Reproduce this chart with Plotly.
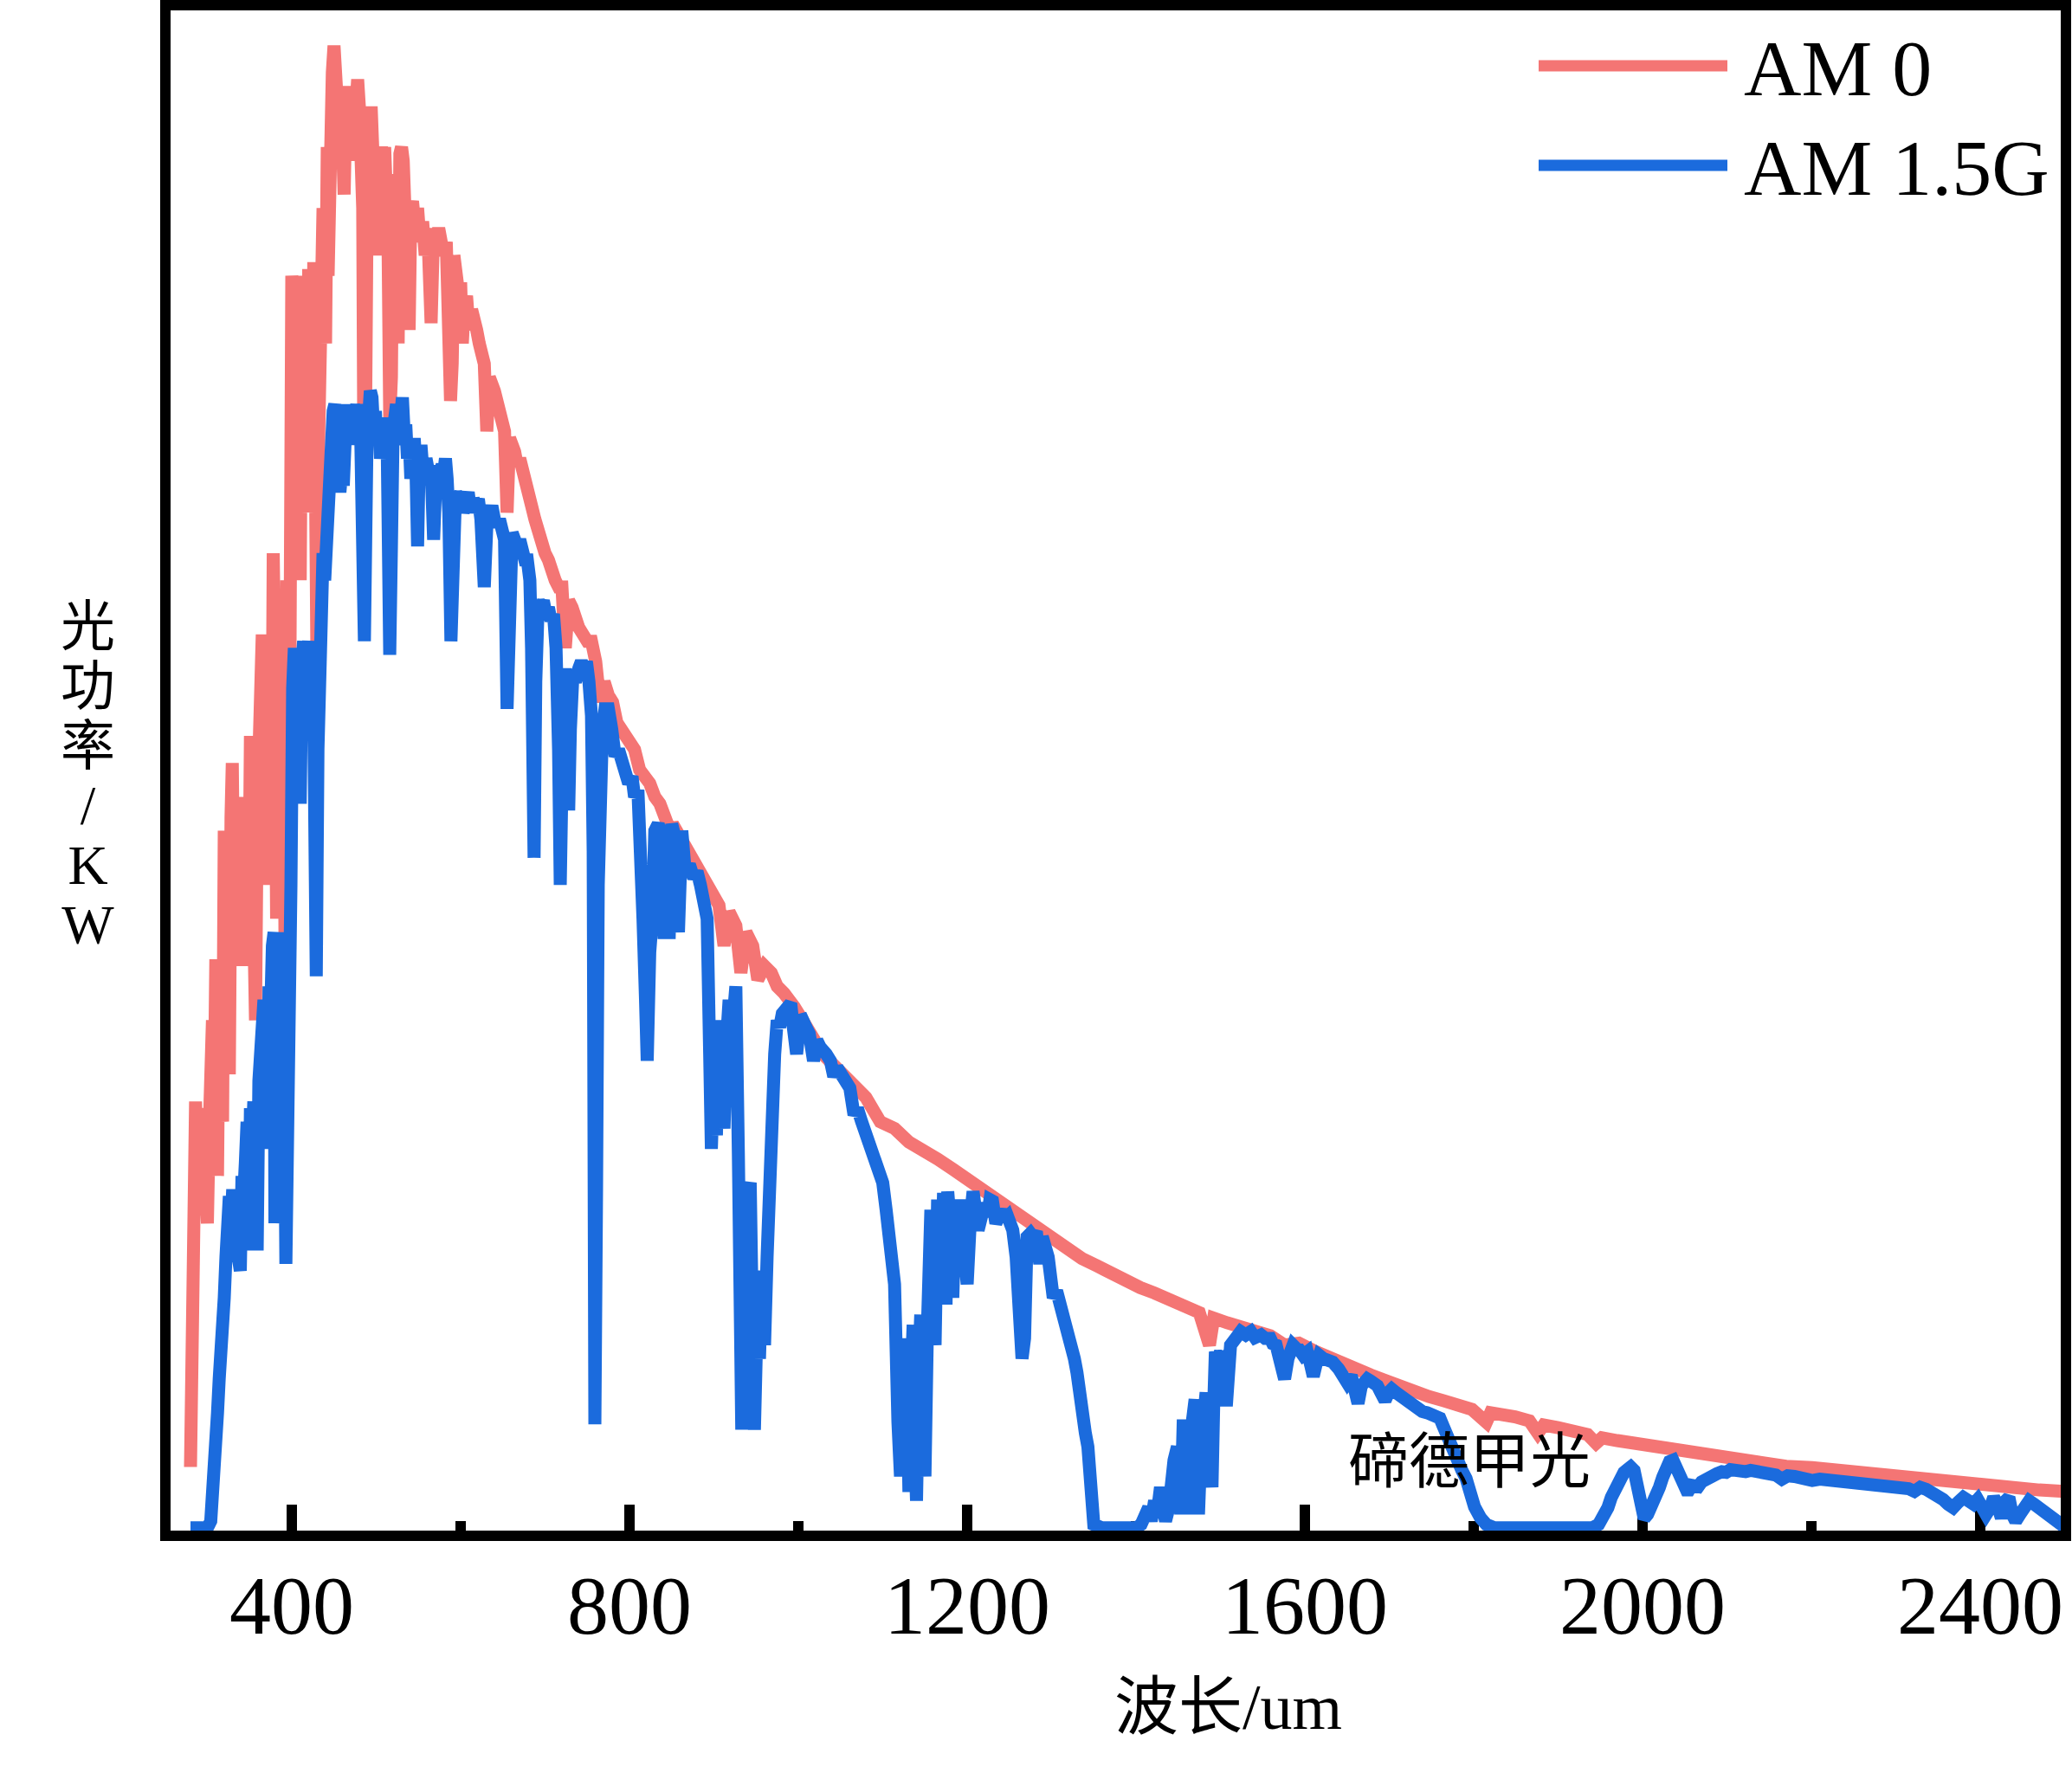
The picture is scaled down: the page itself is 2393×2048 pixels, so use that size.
import plotly.graph_objects as go

# ---------------- data ----------------
wl_am0 = [280, 282, 284, 286, 288, 290, 292, 294, 296, 298, 300, 302, 304, 306, 308, 310, 312, 314, 316, 318,
          320, 322, 324, 326, 328, 329.5, 331, 333, 336, 339, 341, 343, 345, 347, 349, 351, 353, 355, 357, 359,
          361, 363, 365, 367, 369, 371, 373, 376, 378, 380, 382, 384, 386, 388, 390, 392, 394, 396, 398,
          400, 401, 402, 403, 404, 405, 406, 407, 408, 410, 412, 413, 414, 416, 418, 419, 420, 421, 422, 423,
          424, 425, 426, 428, 430, 432, 434, 436, 437, 438, 439, 440, 442, 443, 444, 446, 447, 448, 450,
          452, 454, 456, 458, 460, 462, 464, 466, 468, 470, 472, 474, 476, 478, 480, 482, 484, 486, 488, 490,
          492, 494, 496, 498, 500, 502, 504, 506, 508, 510, 512, 514, 516, 518, 520, 522, 524, 526, 528, 530,
          532, 534, 536, 539, 541, 543, 546, 549, 552, 555, 558, 561, 565, 568, 571, 574, 577, 580, 583, 586,
          588, 590, 592, 595, 598, 600, 602, 604, 607, 610, 613, 616, 619, 622, 625, 628, 631, 634, 637, 640,
          643, 646, 649, 652, 655, 658, 661, 664, 667, 670, 673, 676, 680, 684, 688, 692, 696, 700, 704, 708,
          712, 716, 720, 724, 728, 732, 736, 740, 745, 750, 755, 760, 765, 770, 775, 780, 785, 790, 795, 800,
          806, 812, 818, 824, 830, 836, 842, 848, 851, 860, 868, 875, 882, 890, 899, 906, 912, 918, 926, 932,
          938, 946, 952, 960, 968, 975, 983, 990, 995, 1005, 1015, 1029, 1045, 1063, 1080, 1097, 1114, 1131,
          1148, 1165, 1183, 1200, 1217, 1234, 1251, 1268, 1285, 1302, 1319, 1336, 1354, 1371, 1388, 1405,
          1422, 1439, 1456, 1475, 1487, 1492, 1508, 1524, 1541, 1559, 1576, 1593, 1610, 1627, 1644, 1660,
          1678, 1695, 1712, 1730, 1747, 1764, 1781, 1798, 1815, 1820, 1849, 1866, 1876, 1883, 1900, 1918,
          1935, 1945, 1952, 1970, 1986, 2003, 2020, 2037, 2054, 2080, 2110, 2140, 2170, 2201, 2230, 2260,
          2290, 2320, 2350, 2380, 2410, 2440, 2470, 2500]

am0 = [0.09, 0.25, 0.42, 0.63, 0.52, 0.60, 0.56, 0.62, 0.58, 0.55, 0.45, 0.58, 0.64, 0.75, 0.62, 0.84, 0.52, 0.80, 0.70, 0.60,
       1.03, 0.80, 0.95, 0.67, 1.05, 1.13, 0.95, 1.04, 0.92, 1.08, 0.83, 1.07, 0.90, 1.02, 0.88, 1.17, 0.95, 1.10, 0.75, 1.05,
       1.20, 1.10, 1.32, 1.15, 1.27, 0.95, 1.20, 1.00, 1.44, 1.25, 0.90, 1.20, 1.38, 1.15, 1.30, 0.85, 1.40, 0.80, 1.60,
       1.85, 1.50, 1.80, 1.45, 1.84, 1.55, 1.85, 1.60, 1.84, 1.40, 1.83, 1.55, 1.85, 1.62, 1.80, 1.50, 1.86, 1.60, 1.82, 1.55,
       1.86, 1.65, 1.87, 1.70, 1.25, 1.62, 1.93, 1.70, 1.95, 1.80, 2.00, 1.75, 2.04, 1.85, 2.00, 2.10, 1.90, 2.15, 2.19,
       2.08, 2.13, 2.06, 2.13, 2.00, 1.97, 2.10, 2.13, 2.05, 2.10, 2.02, 2.12, 2.08, 2.14, 2.10, 2.06, 1.95, 1.40, 2.00, 2.09,
       2.06, 2.10, 2.00, 2.07, 1.90, 2.03, 1.88, 2.04, 2.02, 2.04, 1.98, 1.90, 1.64, 1.70, 2.00, 1.95, 2.00, 1.75, 2.03, 2.04,
       2.02, 1.95, 1.90, 1.77, 1.95, 1.96, 1.92, 1.95, 1.90, 1.93, 1.88, 1.92, 1.78, 1.92, 1.90, 1.92, 1.88, 1.88, 1.90, 1.78,
       1.665, 1.72, 1.88, 1.85, 1.82, 1.84, 1.75, 1.80, 1.82, 1.77, 1.80, 1.77, 1.77, 1.75, 1.73, 1.72, 1.62, 1.70, 1.69, 1.68,
       1.66, 1.65, 1.64, 1.62, 1.50, 1.61, 1.60, 1.59, 1.57, 1.58, 1.56, 1.55, 1.52, 1.51, 1.49, 1.47, 1.46, 1.44, 1.43, 1.41,
       1.40, 1.39, 1.39, 1.30, 1.37, 1.36, 1.34, 1.33, 1.32, 1.31, 1.31, 1.28, 1.22, 1.25, 1.23, 1.22, 1.19, 1.18, 1.17, 1.16,
       1.15, 1.12, 1.11, 1.10, 1.08, 1.07, 1.05, 1.03, 1.04, 1.02, 1.00, 0.99, 0.97, 0.96, 0.94, 0.92, 0.86, 0.91, 0.89, 0.82,
       0.88, 0.86, 0.81, 0.83, 0.82, 0.80, 0.79, 0.78, 0.77, 0.75, 0.73, 0.70, 0.68, 0.66, 0.636, 0.60, 0.59, 0.57,
       0.56, 0.545, 0.53, 0.515, 0.50, 0.485, 0.47, 0.455, 0.443, 0.425, 0.41, 0.398, 0.387, 0.375, 0.364, 0.355,
       0.347, 0.337, 0.327, 0.318, 0.27, 0.31, 0.303, 0.296, 0.29, 0.284, 0.27, 0.273, 0.262, 0.252, 0.243, 0.236,
       0.226, 0.218, 0.209, 0.201, 0.194, 0.188, 0.183, 0.175, 0.156, 0.17, 0.164, 0.158, 0.14, 0.152, 0.148, 0.143,
       0.138, 0.125, 0.133, 0.129, 0.126, 0.122, 0.118, 0.114, 0.111, 0.104, 0.098, 0.094, 0.091, 0.089, 0.085, 0.081,
       0.077, 0.073, 0.069, 0.065, 0.061, 0.058, 0.056, 0.054]

wl_am15g = [280, 290, 300, 304, 306, 308, 310, 312, 314, 316, 318, 320, 322, 324, 326, 328, 330, 332, 334, 336,
            339, 341, 343, 345, 347, 349, 351, 353, 355, 357, 359, 361, 363, 365, 367, 369, 371, 373, 375, 377,
            379, 380, 382, 384, 386, 388, 390, 393, 395, 397, 399, 401, 403, 405, 407, 410, 412, 414, 416, 418,
            420, 422, 424, 426, 429, 431, 433, 435, 437, 439, 441, 443, 445, 447, 449, 451, 453, 455, 457, 459,
            461, 463, 465, 467, 469, 471, 473, 475, 477, 479, 481, 483, 486, 489, 491, 493, 495, 497, 499, 501,
            503, 505, 507, 509, 511, 513, 516, 518, 520, 522, 524, 526, 528, 531, 533, 535, 537, 539, 541, 543,
            545, 547, 549, 551, 553, 556, 559, 562, 565, 568, 571, 573, 575, 578, 580, 582, 584, 586, 588.5, 591,
            594, 597, 600, 603, 606, 609, 612, 615, 618, 621, 624, 628, 631, 634, 637, 640, 643, 646, 649, 652,
            655, 658, 661, 664, 667, 670, 673, 676, 679, 682, 684, 687, 689, 692, 695, 698, 701, 704, 707, 710,
            713, 716, 718, 720, 722, 724, 726, 728, 730, 733, 736, 740, 743, 746, 749, 752, 755, 757, 759, 761,
            763, 765, 768, 771, 775, 779, 783, 787, 791, 795, 799, 803, 806, 810, 813, 816, 819, 821, 824, 827,
            830, 834, 838, 841, 844, 847, 850, 854, 858, 862, 866, 871, 876, 880, 884, 888, 892, 895, 897, 900,
            903, 906, 909, 912, 915, 918, 922, 926, 929, 931, 933, 936, 939, 941, 943, 945, 948, 951, 954, 957,
            960, 963, 966, 969, 972, 975, 978, 981, 985, 988, 991, 994, 998, 1002, 1005, 1009, 1013, 1018, 1022, 1026,
            1029, 1033, 1038, 1042, 1046, 1051, 1056, 1061, 1066, 1070, 1075, 1080, 1085, 1090, 1094, 1100, 1104, 1107, 1111, 1114,
            1118, 1121, 1124, 1126, 1128, 1131, 1133, 1136, 1138, 1140, 1143, 1145, 1148, 1150, 1153, 1157, 1160, 1162, 1165, 1169,
            1172, 1175, 1177, 1180, 1183, 1186, 1190, 1193, 1197, 1200, 1204, 1207, 1210, 1213, 1217, 1220, 1224, 1227, 1230, 1234,
            1237, 1241, 1244, 1248, 1251, 1254, 1258, 1262, 1265, 1268, 1271, 1275, 1278, 1282, 1286, 1289, 1292, 1296, 1299, 1302,
            1306, 1311, 1315, 1319, 1324, 1327, 1330, 1333, 1336, 1340, 1343, 1346, 1350, 1360, 1370, 1380, 1390, 1400, 1406, 1411,
            1415, 1418, 1422, 1425, 1429, 1432, 1435, 1439, 1442, 1445, 1449, 1451, 1453, 1456, 1458, 1460, 1463, 1466, 1470, 1472,
            1474, 1477, 1479, 1483, 1486, 1490, 1492, 1494, 1497, 1500, 1504, 1507, 1510, 1512, 1518, 1524, 1530, 1536, 1541, 1548,
            1553, 1559, 1562, 1566, 1570, 1573, 1576, 1580, 1586, 1590, 1593, 1598, 1603, 1607, 1610, 1613, 1617, 1622, 1627, 1633,
            1640, 1645, 1650, 1655, 1660, 1663, 1667, 1670, 1674, 1678, 1682, 1686, 1690, 1695, 1699, 1703, 1708, 1712, 1717, 1722,
            1727, 1733, 1739, 1745, 1752, 1760, 1764, 1767, 1771, 1774, 1778, 1782, 1786, 1791, 1796, 1801, 1808, 1815, 1825, 1850,
            1880, 1910, 1940, 1948, 1952, 1955, 1959, 1963, 1966, 1970, 1974, 1978, 1982, 1986, 1990, 1993, 1996, 1999, 2002, 2006,
            2010, 2015, 2020, 2024, 2028, 2032, 2036, 2040, 2044, 2048, 2052, 2055, 2058, 2062, 2066, 2070, 2074, 2078, 2083, 2088,
            2094, 2099, 2104, 2110, 2116, 2122, 2128, 2136, 2143, 2150, 2158, 2165, 2172, 2180, 2190, 2201, 2210, 2220, 2230, 2237,
            2246, 2255, 2263, 2272, 2281, 2290, 2299, 2308, 2315, 2322, 2329, 2336, 2343, 2350, 2356, 2362, 2368, 2374, 2380, 2386,
            2392, 2397, 2402, 2407, 2412, 2416, 2420, 2425, 2430, 2434, 2438, 2442, 2447, 2452, 2458, 2464, 2469, 2474, 2480, 2485,
            2490, 2495, 2500]

am15g = [0.0, 0.0, 0.0, 0.01, 0.04, 0.09, 0.14, 0.17, 0.22, 0.25, 0.30, 0.34, 0.40, 0.47, 0.49, 0.45, 0.50, 0.46, 0.42, 0.40,
         0.38, 0.52, 0.49, 0.54, 0.60, 0.41, 0.62, 0.57, 0.63, 0.52, 0.41, 0.66, 0.74, 0.70, 0.78, 0.74, 0.56, 0.80, 0.76, 0.86,
         0.88, 0.45, 0.78, 0.86, 0.88, 0.80, 0.87, 0.39, 0.80, 0.50, 0.95, 1.24, 1.30, 1.25, 1.29, 1.07, 1.28, 1.31, 1.27, 1.30,
         1.31, 1.25, 1.28, 1.20, 0.815, 1.15, 1.38, 1.42, 1.44, 1.40, 1.48, 1.56, 1.62, 1.58, 1.65, 1.66, 1.60, 1.62, 1.53, 1.56,
         1.54, 1.60, 1.66, 1.62, 1.65, 1.60, 1.66, 1.64, 1.66, 1.63, 1.66, 1.58, 1.31, 1.60, 1.64, 1.68, 1.67, 1.62, 1.65, 1.60,
         1.64, 1.58, 1.63, 1.62, 1.64, 1.60, 1.29, 1.45, 1.62, 1.64, 1.66, 1.60, 1.66, 1.67, 1.62, 1.63, 1.58, 1.61, 1.55, 1.60,
         1.61, 1.57, 1.45, 1.58, 1.60, 1.55, 1.58, 1.56, 1.57, 1.46, 1.56, 1.52, 1.56, 1.57, 1.56, 1.58, 1.55, 1.50, 1.31, 1.45,
         1.53, 1.52, 1.53, 1.50, 1.52, 1.53, 1.50, 1.52, 1.51, 1.52, 1.49, 1.39, 1.48, 1.50, 1.51, 1.49, 1.48, 1.49, 1.47, 1.46,
         1.21, 1.44, 1.47, 1.46, 1.45, 1.46, 1.44, 1.43, 1.43, 1.40, 1.30, 0.99, 1.25, 1.37, 1.36, 1.37, 1.35, 1.36, 1.34, 1.35,
         1.30, 1.15, 0.95, 1.10, 1.22, 1.27, 1.20, 1.06, 1.18, 1.26, 1.25, 1.27, 1.28, 1.27, 1.28, 1.25, 1.20, 1.00, 0.153, 0.50,
         0.95, 1.12, 1.18, 1.21, 1.21, 1.18, 1.14, 1.15, 1.13, 1.12, 1.10, 1.11, 1.08, 1.09, 1.02, 0.90, 0.78, 0.69, 0.85, 0.90,
         1.03, 1.04, 1.02, 0.87, 1.03, 0.87, 1.04, 1.02, 0.88, 1.03, 0.97, 0.98, 0.96, 0.97, 0.95, 0.93, 0.90, 0.70, 0.56, 0.68,
         0.58, 0.75, 0.62, 0.59, 0.72, 0.78, 0.74, 0.80, 0.55, 0.30, 0.145, 0.40, 0.30, 0.50, 0.51, 0.35, 0.145, 0.30, 0.25, 0.38,
         0.27, 0.40, 0.55, 0.62, 0.70, 0.75, 0.74, 0.76, 0.77, 0.775, 0.775, 0.74, 0.70, 0.75, 0.751, 0.74, 0.73, 0.69, 0.72, 0.71,
         0.707, 0.70, 0.69, 0.667, 0.68, 0.67, 0.667, 0.65, 0.61, 0.62, 0.60, 0.58, 0.57, 0.55, 0.54, 0.51, 0.47, 0.44, 0.40, 0.36,
         0.156, 0.076, 0.20, 0.09, 0.28, 0.053, 0.20, 0.30, 0.12, 0.04, 0.25, 0.315, 0.12, 0.076, 0.30, 0.47, 0.35, 0.27, 0.485, 0.35,
         0.495, 0.33, 0.497, 0.45, 0.34, 0.47, 0.44, 0.485, 0.40, 0.36, 0.46, 0.497, 0.47, 0.44, 0.46, 0.48, 0.46, 0.485, 0.483, 0.45,
         0.46, 0.47, 0.455, 0.46, 0.45, 0.44, 0.40, 0.33, 0.25, 0.28, 0.43, 0.435, 0.43, 0.438, 0.39, 0.43, 0.42, 0.40, 0.37, 0.34,
         0.35, 0.33, 0.31, 0.29, 0.27, 0.25, 0.23, 0.19, 0.15, 0.14, 0.12, 0.06, 0.005, 0.0, 0.0, 0.0, 0.0, 0.0, 0.005, 0.02,
         0.03, 0.01, 0.04, 0.02, 0.06, 0.03, 0.01, 0.03, 0.08, 0.10, 0.12, 0.06, 0.02, 0.16, 0.08, 0.02, 0.12, 0.15, 0.19, 0.08,
         0.02, 0.12, 0.18, 0.20, 0.12, 0.06, 0.18, 0.26, 0.25, 0.26, 0.24, 0.18, 0.25, 0.27, 0.28, 0.29, 0.285, 0.29, 0.281, 0.285,
         0.28, 0.28, 0.272, 0.27, 0.25, 0.23, 0.22, 0.25, 0.27, 0.265, 0.264, 0.255, 0.26, 0.24, 0.224, 0.24, 0.255, 0.25, 0.247, 0.245,
         0.235, 0.225, 0.215, 0.225, 0.20, 0.184, 0.21, 0.22, 0.22, 0.217, 0.215, 0.21, 0.20, 0.188, 0.20, 0.205, 0.20, 0.196, 0.19, 0.185,
         0.18, 0.175, 0.172, 0.17, 0.166, 0.162, 0.15, 0.14, 0.125, 0.115, 0.105, 0.095, 0.085, 0.073, 0.05, 0.031, 0.015, 0.005, 0.0, 0.0,
         0.0, 0.0, 0.0, 0.005, 0.012, 0.02, 0.03, 0.045, 0.055, 0.068, 0.076, 0.082, 0.086, 0.09, 0.085, 0.07, 0.045, 0.025, 0.014, 0.02,
         0.03, 0.039, 0.06, 0.075, 0.088, 0.098, 0.10, 0.09, 0.075, 0.062, 0.056, 0.056, 0.063, 0.062, 0.061, 0.068, 0.072, 0.075, 0.077, 0.08,
         0.083, 0.082, 0.086, 0.084, 0.086, 0.083, 0.085, 0.084, 0.08, 0.08, 0.078, 0.072, 0.077, 0.076, 0.073, 0.07, 0.072, 0.071, 0.069, 0.07,
         0.066, 0.065, 0.063, 0.062, 0.063, 0.064, 0.06, 0.062, 0.058, 0.054, 0.06, 0.057, 0.052, 0.05, 0.042, 0.035, 0.03, 0.038, 0.045, 0.04,
         0.035, 0.042, 0.03, 0.02, 0.03, 0.045, 0.035, 0.015, 0.04, 0.045, 0.02, 0.01, 0.02, 0.032, 0.04, 0.035, 0.03, 0.022, 0.015, 0.01,
         0.007, 0.006, 0.008]

series_names = ["AM 0", "AM 1.5G"]
x_tick_vals = [400, 800, 1200, 1600, 2000, 2400]
x_title = "波长/um"
y_title_chars = ["光", "功", "率", "/", "K", "W"]
note_text = "碲德甲光"

# ---------------- styling / layout ----------------
RED = "#F47574"
BLUE = "#1B6BDD"
W, H = 2393, 2048
ML, MR, MT, MB = 197, 13, 12, 280
PW, PH = W - ML - MR, H - MT - MB
FONT = "Liberation Serif, Times New Roman, Noto Sans CJK SC, serif"


def px(xp):
    return (xp - ML) / PW


def py(yp):
    return (H - MB - yp) / PH


fig = go.Figure()
fig.add_trace(go.Scatter(x=wl_am0, y=am0, mode="lines", name=series_names[0],
                         line=dict(color=RED, width=15), showlegend=False))
fig.add_trace(go.Scatter(x=wl_am15g, y=am15g, mode="lines", name=series_names[1],
                         line=dict(color=BLUE, width=15), showlegend=False))

fig.update_layout(
    template="none",
    width=W, height=H,
    margin=dict(l=ML, r=MR, t=MT, b=MB, pad=0, autoexpand=False),
    paper_bgcolor="white", plot_bgcolor="white",
    font=dict(family=FONT, color="black"),
    showlegend=False,
)
fig.update_xaxes(
    range=[256.4, 2495.4], showgrid=False, zeroline=False, automargin=False,
    showline=True, linewidth=12, linecolor="black", mirror=True,
    ticks="inside", ticklen=30, tickwidth=12, tickcolor="black",
    tickvals=x_tick_vals, ticktext=[str(v) for v in x_tick_vals],
    tickfont=dict(family=FONT, size=96, color="black"),
    minor=dict(ticks="inside", ticklen=11, tickwidth=12, tickcolor="black", dtick=200, tick0=0),
    layer="below traces",
)
try:
    fig.update_xaxes(ticklabelstandoff=-8)
except Exception:
    fig.update_xaxes(ticklabelstandoff=0)

fig.update_yaxes(
    range=[-0.004, 2.242], showgrid=False, zeroline=False, automargin=False,
    showline=True, linewidth=12, linecolor="black", mirror=True,
    ticks="", showticklabels=False,
)

# legend (drawn manually to match the long sample lines)
for yp, col, name in [(76, RED, series_names[0]), (191, BLUE, series_names[1])]:
    fig.add_shape(type="line", xref="paper", yref="paper",
                  x0=px(1777), x1=px(1995), y0=py(yp), y1=py(yp),
                  line=dict(color=col, width=13))
    fig.add_annotation(xref="paper", yref="paper", x=px(2012), y=py(yp + 3),
                       text=name, showarrow=False, xanchor="left", yanchor="middle",
                       font=dict(family=FONT, size=92, color="black"))

# x axis title
fig.add_annotation(xref="paper", yref="paper", x=px(1418), y=py(1972), text=x_title,
                   showarrow=False, xanchor="center", yanchor="middle",
                   font=dict(family=FONT, size=74, color="black"))

# y axis title: characters stacked vertically in one text block
y_title_html = "<br>".join('<span style="font-size:63px">%s</span>' % ch for ch in y_title_chars[:4]) + \
    "".join('<br><span style="font-size:64px">%s</span>' % ch for ch in y_title_chars[4:])
fig.add_annotation(xref="paper", yref="paper", x=px(101), y=py(896), text=y_title_html,
                   showarrow=False, xanchor="center", yanchor="middle", align="center",
                   font=dict(family=FONT, size=53, color="black"))

# in-plot note
fig.add_annotation(xref="paper", yref="paper", x=px(1697), y=py(1689), text=note_text,
                   showarrow=False, xanchor="center", yanchor="middle",
                   font=dict(family=FONT, size=70, color="black"))

fig.write_html("out.html")
